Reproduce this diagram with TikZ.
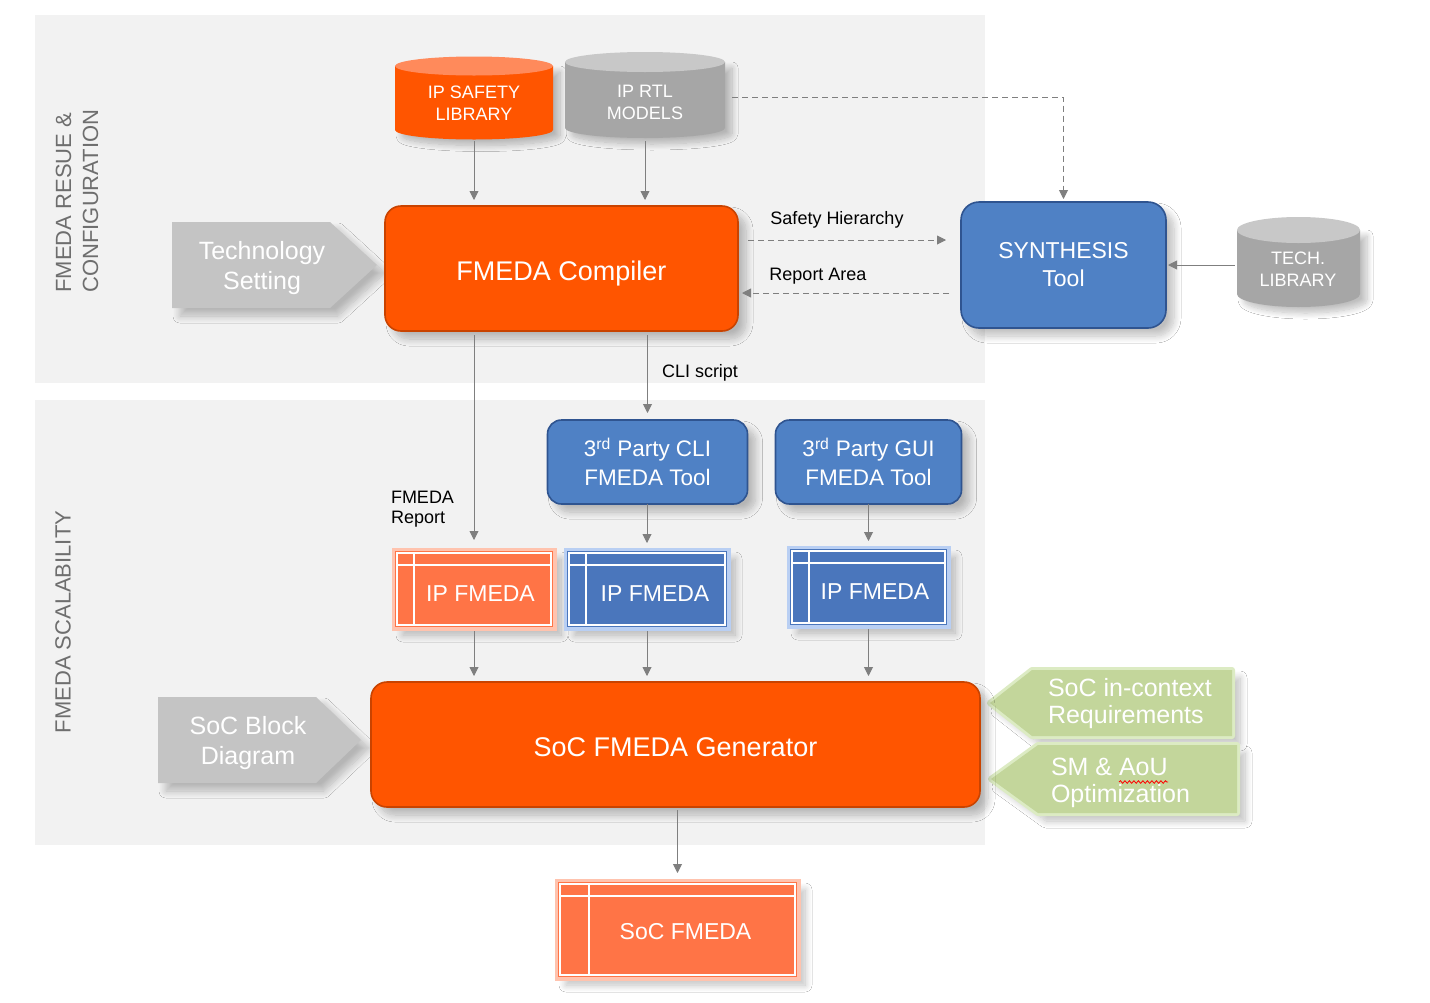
\documentclass[tikz,border=0pt]{standalone}
\usepackage{fontspec}
\setmainfont{Liberation Sans}
\usetikzlibrary{shadows.blur,arrows.meta,calc,decorations.pathmorphing}
\definecolor{orng}{HTML}{FF5500}
\definecolor{orngdk}{HTML}{C94300}
\definecolor{orngtop}{HTML}{FF8A5B}
\definecolor{orngl}{HTML}{FF7446}
\definecolor{orngglow}{HTML}{FFC3AE}
\definecolor{blu}{HTML}{4F81C5}
\definecolor{bludk}{HTML}{2F5490}
\definecolor{blut}{HTML}{4A76BC}
\definecolor{bluglow}{HTML}{B9CFF3}
\definecolor{gbody}{HTML}{A6A6A6}
\definecolor{gtop}{HTML}{C8C8C8}
\definecolor{gsig}{HTML}{C4C4C4}
\definecolor{grn}{HTML}{C3D69B}
\definecolor{grnglow}{HTML}{DCEBC3}
\definecolor{panel}{HTML}{F2F2F2}
\definecolor{arr}{HTML}{7F7F7F}
\definecolor{lbl}{HTML}{6E6E6E}
\newcommand\cylshape[7]{%
  \path[fill=#6, blur shadow={shadow xshift=7pt,shadow yshift=-6pt,shadow blur radius=6pt,shadow blur steps=12,shadow opacity=25}]
    (#1,#3) -- (#1,#4) arc[start angle=180,end angle=0,x radius={(#2-#1)/2},y radius=#5] -- (#2,#3) -- cycle;
  \fill[#7] ({(#1+#2)/2},#3) ellipse[x radius={(#2-#1)/2}, y radius=#5];
}
\newcommand\tablelines[3]{%
  \draw[white, line width=2.2pt] ([shift={(2pt,-2pt)}]#1.north west) rectangle ([shift={(-2pt,2pt)}]#1.south east);
  \draw[white, line width=2.2pt] ([shift={(2pt,-#3)}]#1.north west) -- ([shift={(-2pt,-#3)}]#1.north east);
  \draw[white, line width=2.2pt] ([shift={(#2,-2pt)}]#1.north west) -- ([shift={(#2,2pt)}]#1.south west);
}
\begin{document}
\begin{tikzpicture}[x=1pt,y=-1pt,
  every node/.style={inner sep=0pt, outer sep=0pt},
  shd/.style={blur shadow={shadow xshift=8pt,shadow yshift=-8pt,shadow blur radius=7pt,shadow blur steps=12,shadow opacity=25}},
  box/.style={rounded corners=16pt, text=white, align=center, shd},
  obox/.style={box, fill=orng, draw=orngdk, line width=1.6pt},
  bbox/.style={box, fill=blu, draw=bludk, line width=1.6pt},
  tblo/.style={fill=orngl, text=white, shd, preaction={draw=orngglow, line width=7pt}, font=\fontsize{23}{28}\selectfont},
  tblb/.style={fill=blut, text=white, shd, preaction={draw=bluglow, line width=7pt}, font=\fontsize{23}{28}\selectfont},
  cyltxt/.style={text=white, align=center, font=\fontsize{18}{22}\selectfont},
  sigtxt/.style={text=white, align=center, font=\fontsize{25}{30}\selectfont},
  grntxt/.style={text=white, align=left, anchor=west, font=\fontsize{25}{27}\selectfont},
  lab/.style={text=black, font=\fontsize{18}{20}\selectfont},
  conn/.style={draw=arr, line width=0.9pt, -{Triangle[width=9pt,length=9pt]}},
  dconn/.style={conn, dash pattern=on 6pt off 4pt},
]
\useasboundingbox (0,0) rectangle (1430,1002);
\fill[white] (0,0) rectangle (1430,1002);
% panels
\fill[panel] (35,15) rectangle (985,383);
\fill[panel] (35,400) rectangle (985,845);
\node[rotate=90, align=left, text=lbl, font=\fontsize{22}{27}\selectfont] (lab1) at (77,201) {FMEDA RESUE \&\\CONFIGURATION};
\node[rotate=90, text=lbl, font=\fontsize{22}{27}\selectfont] (lab2) at (63,622) {FMEDA SCALABILITY};
% cylinders
\cylshape{395}{553}{66}{130}{9.5}{orng}{orngtop}
\cylshape{565}{725}{62}{128}{10}{gbody}{gtop}
\cylshape{1237}{1360}{230}{294}{13}{gbody}{gtop}
\node[cyltxt, minimum width=158, minimum height=76] (ipsafe) at (474,103) {IP SAFETY\\LIBRARY};
\node[cyltxt, minimum width=160, minimum height=78] (iprtl) at (645,102) {IP RTL\\MODELS};
\node[cyltxt, minimum width=123, minimum height=70] (techlib) at (1298,269) {TECH.\\LIBRARY};
% signals
\fill[gsig, shd] (172,222) -- (330,222) -- (377,265) -- (330,308) -- (172,308) -- cycle;
\node[sigtxt] (tech) at (262,268) {Technology\\Setting};
\fill[gsig, shd] (158,697) -- (316,697) -- (361,740) -- (316,783) -- (158,783) -- cycle;
\node[sigtxt] (socblk) at (248,743) {SoC Block\\Diagram};
\fill[grn, shd, preaction={draw=grnglow, line width=6pt, line join=round}] (1232,670) -- (1032,670) -- (990,703) -- (1032,736) -- (1232,736) -- cycle;
\node[grntxt] (req) at (1048,704) {SoC in-context\\Requirements};
\fill[grn, shd, preaction={draw=grnglow, line width=6pt, line join=round}] (1237,745) -- (1038,745) -- (991,779) -- (1038,813) -- (1237,813) -- cycle;
\node[grntxt] (opt) at (1051,783) {SM \& AoU\\Optimization};
\draw[red, line width=0.8pt, decorate, decoration={snake, segment length=4.5pt, amplitude=1.3pt}] (1119,782) -- (1168,782);
% main boxes
\node[obox, minimum width=353, minimum height=125, text height=23pt, text depth=0pt, font=\fontsize{27}{32}\selectfont] (comp) at (561.5,268.5) {FMEDA Compiler};
\node[bbox, rounded corners=18pt, minimum width=205, minimum height=126, font=\fontsize{23}{28}\selectfont] (synth) at (1063.5,265) {SYNTHESIS\\Tool};
\node[bbox, rounded corners=14pt, minimum width=200, minimum height=84, font=\fontsize{22.5}{29}\selectfont] (cli) at (647.5,462) {3\textsuperscript{rd} Party CLI\\FMEDA Tool};
\node[bbox, rounded corners=14pt, minimum width=186, minimum height=84, font=\fontsize{22.5}{29}\selectfont] (gui) at (868.5,462) {3\textsuperscript{rd} Party GUI\\FMEDA Tool};
\node[obox, minimum width=609, minimum height=125, text height=23pt, text depth=0pt, font=\fontsize{27}{32}\selectfont] (gen) at (675.5,744.5) {SoC FMEDA Generator};
% table boxes
\node[tblo, minimum width=158, minimum height=76, text height=24.5pt, text depth=0pt] (ipf1) at (474,589) {\hspace*{13pt}IP FMEDA};
\tablelines{ipf1}{19pt}{14pt}
\node[tblb, minimum width=160, minimum height=76, text height=24.5pt, text depth=0pt] (ipf2) at (647,589) {\hspace*{16pt}IP FMEDA};
\tablelines{ipf2}{19pt}{14pt}
\node[tblb, minimum width=157, minimum height=76, text height=25.5pt, text depth=0pt] (ipf3) at (868.5,587) {\hspace*{13pt}IP FMEDA};
\tablelines{ipf3}{19pt}{14pt}
\node[tblo, minimum width=239, minimum height=95, text height=19pt, text depth=0pt] (socf) at (677.5,929.5) {\hspace*{16pt}SoC FMEDA};
\tablelines{socf}{31pt}{14pt}
% connectors
\coordinate (ysh) at (0,240);
\coordinate (yra) at (0,293);
\coordinate (yt) at (0,265);
\coordinate (d1) at ($(iprtl.east)+(7,-5)$);
\draw[conn, shorten >=6pt] (ipsafe.south) -- (ipsafe.south |- comp.north);
\draw[conn, shorten >=6pt] (iprtl.south) -- (iprtl.south |- comp.north);
\draw[dconn, shorten >=3pt] (d1) -| (synth.north);
\draw[dconn, shorten <=10pt, shorten >=15pt] (comp.east |- ysh) -- (synth.west |- ysh);
\draw[dconn, shorten <=12pt, shorten >=4pt] (synth.west |- yra) -- (comp.east |- yra);
\draw[conn, shorten <=2pt, shorten >=2pt] (techlib.west |- yt) -- (synth.east |- yt);
\draw[conn, shorten <=4pt, shorten >=11pt] (ipf1.north |- comp.south) -- (ipf1.north);
\draw[conn, shorten <=4pt, shorten >=7pt] (cli.north |- comp.south) -- (cli.north);
\draw[conn, shorten >=8pt] (ipf2.north |- cli.south) -- (ipf2.north);
\draw[conn, shorten >=8pt] (ipf3.north |- gui.south) -- (ipf3.north);
\draw[conn, shorten <=4pt, shorten >=6pt] (ipf1.south) -- (ipf1.south |- gen.north);
\draw[conn, shorten <=4pt, shorten >=6pt] (ipf2.south) -- (ipf2.south |- gen.north);
\draw[conn, shorten <=4pt, shorten >=6pt] (ipf3.south) -- (ipf3.south |- gen.north);
\draw[conn, shorten <=3pt, shorten >=9pt] (socf.north |- gen.south) -- (socf.north);
% labels
\node[lab] (lsh) at (837,220) {Safety Hierarchy};
\node[lab] (lra) at (818,276) {Report Area};
\node[lab, anchor=west] (lcli) at (662,373) {CLI script};
\node[lab, anchor=west, align=left] (lrep) at (391,509) {FMEDA\\Report};
\end{tikzpicture}
\end{document}
